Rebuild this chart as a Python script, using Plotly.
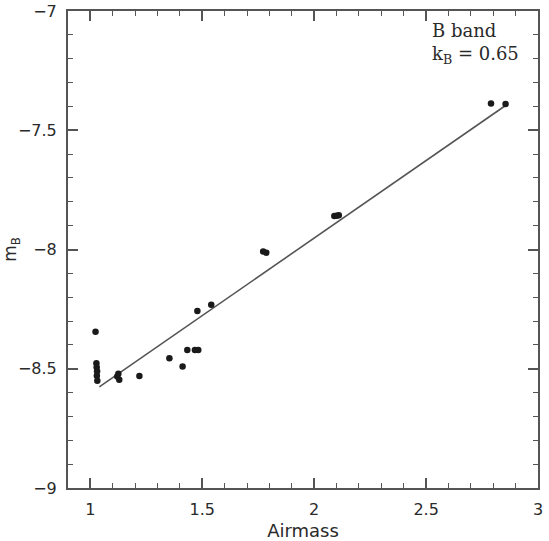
import plotly.graph_objects as go

# Data
airmass = [1.023, 1.027, 1.028, 1.030, 1.029, 1.031, 1.120, 1.125, 1.129, 1.219,
           1.353, 1.412, 1.433, 1.467, 1.482, 1.478, 1.540, 1.772, 1.786,
           2.090, 2.100, 2.110, 2.790, 2.855]
mag_b = [-8.345, -8.477, -8.494, -8.511, -8.529, -8.550, -8.532, -8.521, -8.546, -8.530,
         -8.456, -8.491, -8.421, -8.421, -8.421, -8.258, -8.232, -8.008, -8.014,
         -7.860, -7.858, -7.856, -7.388, -7.390]

k_b = 0.65
intercept = -9.252
fit_x = [1.04, 2.86]
fit_y = [intercept + k_b * x for x in fit_x]

x_ticks = [1, 1.5, 2, 2.5, 3]
x_ticklabels = ["1", "1.5", "2", "2.5", "3"]
y_ticks = [-9, -8.5, -8, -7.5, -7]
y_ticklabels = ["\u22129", "\u22128.5", "\u22128", "\u22127.5", "\u22127"]

ink = "#2a2a2a"
frame = "#555555"
font_family = "DejaVu Sans"

fig = go.Figure()
fig.add_trace(go.Scatter(x=fit_x, y=fit_y, mode="lines",
                         line=dict(color="#555555", width=1.6),
                         showlegend=False, hoverinfo="skip"))
fig.add_trace(go.Scatter(x=airmass, y=mag_b, mode="markers",
                         marker=dict(color="#1a1a1a", size=6.5),
                         showlegend=False))

axis_common = dict(
    showline=True, linecolor=frame, linewidth=2, mirror="ticks",
    ticks="inside", ticklen=10, tickwidth=1.5, tickcolor=frame,
    showgrid=False, zeroline=False, automargin=False,
    tickfont=dict(family=font_family, size=16, color=ink),
)

fig.update_xaxes(
    range=[0.9, 3.0], tickvals=x_ticks, ticktext=x_ticklabels,
    minor=dict(dtick=0.1, ticks="inside", ticklen=5, tickwidth=1.2, tickcolor=frame),
    title=dict(text="Airmass", font=dict(family=font_family, size=18, color=ink), standoff=6),
    ticklabelstandoff=6,
    **axis_common,
)
fig.update_yaxes(
    range=[-9, -7], tickvals=y_ticks, ticktext=y_ticklabels,
    minor=dict(dtick=0.1, ticks="inside", ticklen=5, tickwidth=1.2, tickcolor=frame),
    title=dict(text="m<sub>B</sub>", font=dict(family=font_family, size=17, color=ink), standoff=10),
    ticklabelstandoff=6,
    **axis_common,
)

fig.add_annotation(
    xref="paper", yref="paper", x=0.77, y=0.985, xanchor="left", yanchor="top",
    text="B band<br>k<sub>B</sub> = 0.65", showarrow=False, align="left",
    font=dict(family="DejaVu Serif", size=18, color=ink),
)

fig.update_layout(
    width=549, height=541,
    margin=dict(l=68, r=11, t=11, b=53),
    paper_bgcolor="white", plot_bgcolor="white",
)

fig.write_html("out.html")
